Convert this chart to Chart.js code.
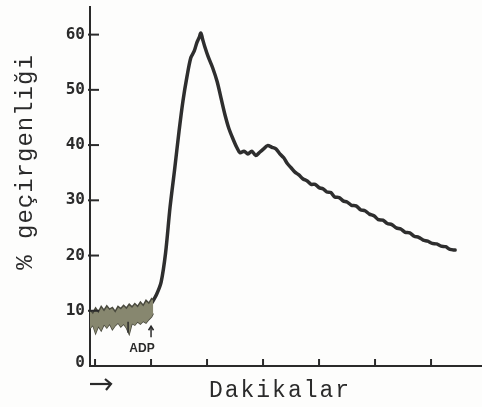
<!DOCTYPE html>
<html>
<head>
<meta charset="utf-8">
<script src="https://cdn.jsdelivr.net/npm/chart.js@4"></script>
<style>
html,body{margin:0;padding:0;background:#fdfdfc;}
#wrap{width:482px;height:407px;position:relative;}
</style>
</head>
<body>
<div id="wrap"><canvas id="c"></canvas></div>
<script>
// ---- data (minutes, % geçirgenliği) ----
const yTickValues = [0, 10, 20, 30, 40, 50, 60];
const xTickMinutes = [0, 1, 2, 3, 4, 5, 6];
const adpMinute = 1;

const baseTimes = [-0.09,-0.04,0.01,0.06,0.11,0.16,0.21,0.26,0.31,0.36,0.41,0.46,0.51,0.56,0.61,0.66,0.71,0.76,0.81,0.86,0.91,0.96,1.01,1.04];
const baseUpper = [10.2,9.6,10.5,9.8,10.8,10.1,10.9,10.3,10.6,9.9,10.8,10.4,11.0,10.5,11.2,10.7,11.3,10.8,11.6,11.0,11.9,11.4,12.2,12.0];
const baseLower = [6.8,7.4,5.9,7.2,6.4,7.5,6.9,7.6,6.6,7.3,7.8,7.1,7.6,6.9,5.8,7.7,7.4,8.0,7.6,8.1,7.8,8.4,8.9,9.5];

const curveTimes = [1.02,1.10,1.18,1.26,1.34,1.42,1.50,1.57,1.64,1.71,1.77,1.82,1.86,1.89,1.92,1.96,2.02,2.10,2.18,2.25,2.32,2.39,2.46,2.53,2.59,2.66,2.73,2.80,2.87,2.94,3.01,3.08,3.16,3.23,3.30,3.37,3.43,3.50,3.57,3.64,3.71,3.79,3.86,3.93,4.00,4.07,4.14,4.21,4.28,4.36,4.43,4.50,4.58,4.66,4.74,4.82,4.90,4.98,5.06,5.14,5.22,5.30,5.38,5.46,5.54,5.62,5.70,5.78,5.86,5.94,6.02,6.10,6.18,6.26,6.34,6.43];
const curveValues = [11.5,13.0,15.2,20.5,28.8,35.5,42.5,48.0,52.3,55.8,57.0,58.6,59.5,60.3,59.2,57.8,56.0,54.0,51.5,48.5,45.5,43.0,41.2,39.6,38.6,38.9,38.4,38.9,38.1,38.7,39.3,39.9,39.6,39.3,38.4,37.7,36.7,35.9,35.1,34.6,33.9,33.5,32.9,32.9,32.3,32.1,31.5,31.4,30.6,30.5,29.9,29.7,29.1,29.0,28.3,28.1,27.5,27.2,26.5,26.4,25.8,25.6,25.0,24.8,24.2,24.1,23.5,23.3,22.8,22.6,22.2,22.1,21.7,21.6,21.1,21.0];

const xy = (ts, vs) => ts.map((t, i) => ({x: t, y: vs[i]}));

const deco = {
  id: 'deco',
  afterDraw(chart) {
    const {ctx, scales: {x, y}} = chart;
    ctx.save();
    ctx.strokeStyle = '#2a2a2a';
    ctx.fillStyle = '#2a2a2a';
    // y tick labels and dashes crossing the axis
    ctx.lineWidth = 2;
    ctx.font = 'bold 16px "DejaVu Sans Mono", monospace';
    ctx.textAlign = 'right'; ctx.textBaseline = 'middle';
    yTickValues.forEach(v => {
      const py = y.getPixelForValue(v);
      ctx.fillText(String(v), x.left - 5, v === 0 ? py - 3 : py);
      if (v === 0) return;
      ctx.beginPath(); ctx.moveTo(x.left - 2, py); ctx.lineTo(x.left + 9, py); ctx.stroke();
    });
    // x tick marks (upward)
    xTickMinutes.forEach(m => {
      const px = x.getPixelForValue(m);
      ctx.beginPath(); ctx.moveTo(px, y.bottom); ctx.lineTo(px, y.bottom - 7); ctx.stroke();
    });
    // small mark inside the baseline band
    ctx.lineWidth = 1.5;
    const p1 = x.getPixelForValue(0.59);
    ctx.beginPath(); ctx.moveTo(p1, y.getPixelForValue(8.0)); ctx.lineTo(p1, y.getPixelForValue(6.0)); ctx.stroke();
    // ADP arrow
    const pa = x.getPixelForValue(adpMinute);
    const ya1 = y.getPixelForValue(5.2), ya2 = y.getPixelForValue(7.2);
    ctx.beginPath(); ctx.moveTo(pa, ya1); ctx.lineTo(pa, ya2); ctx.stroke();
    ctx.beginPath(); ctx.moveTo(pa - 2.5, ya2 + 4); ctx.lineTo(pa, ya2); ctx.lineTo(pa + 2.5, ya2 + 4); ctx.stroke();
    ctx.font = 'bold 12px "Liberation Sans", sans-serif';
    ctx.textAlign = 'center'; ctx.textBaseline = 'middle';
    ctx.fillText('ADP', pa - 9, y.getPixelForValue(3.2));
    // arrow under origin
    ctx.lineWidth = 2.2;
    const ay = 384, ax0 = 90, ax1 = 111;
    ctx.beginPath(); ctx.moveTo(ax0, ay); ctx.lineTo(ax1, ay); ctx.stroke();
    ctx.beginPath(); ctx.moveTo(ax1 - 6, ay - 5); ctx.lineTo(ax1, ay); ctx.lineTo(ax1 - 5, ay + 6); ctx.stroke();
    // axis titles
    ctx.fillStyle = '#2b2b2b';
    ctx.font = '23px "Liberation Mono", monospace';
    ctx.letterSpacing = '2px';
    ctx.textAlign = 'center'; ctx.textBaseline = 'middle';
    ctx.fillText('Dakikalar', 280, 391);
    ctx.save();
    ctx.translate(26, 162);
    ctx.rotate(-Math.PI / 2);
    ctx.letterSpacing = '1px';
    ctx.font = '24px "Liberation Mono", monospace';
    ctx.fillText('% geçirgenliği', 0, 0);
    ctx.restore();
    ctx.restore();
  }
};

new Chart(document.getElementById('c'), {
  type: 'line',
  data: {
    datasets: [
      {
        data: xy(baseTimes, baseUpper),
        borderColor: '#4a4a3e', borderWidth: 1.5,
        backgroundColor: '#87876f',
        fill: '+1', pointRadius: 0, tension: 0
      },
      {
        data: xy(baseTimes, baseLower),
        borderColor: '#4a4a3e', borderWidth: 1.5,
        fill: false, pointRadius: 0, tension: 0
      },
      {
        data: xy(curveTimes, curveValues),
        borderColor: '#2e2e2e', borderWidth: 3.5,
        fill: false, pointRadius: 0, tension: 0.3,
        borderJoinStyle: 'round', borderCapStyle: 'round'
      }
    ]
  },
  options: {
    responsive: true,
    maintainAspectRatio: false,
    animation: false,
    layout: {padding: {top: 7, right: 0, left: 0, bottom: 0}},
    plugins: {legend: {display: false}, tooltip: {enabled: false}},
    scales: {
      x: {
        type: 'linear', min: -0.09, max: 6.91,
        grid: {display: false, drawTicks: false},
        border: {display: true, color: '#2a2a2a', width: 2},
        ticks: {display: false},
        afterFit(s) { s.height = 41; }
      },
      y: {
        type: 'linear', min: 0, max: 65,
        afterBuildTicks(s) { s.ticks = yTickValues.map(v => ({value: v})); },
        grid: {display: false, drawTicks: false},
        border: {display: true, color: '#2a2a2a', width: 2},
        ticks: {display: false},
        afterFit(s) { s.width = 90; }
      }
    }
  },
  plugins: [deco]
});
</script>
</body>
</html>
